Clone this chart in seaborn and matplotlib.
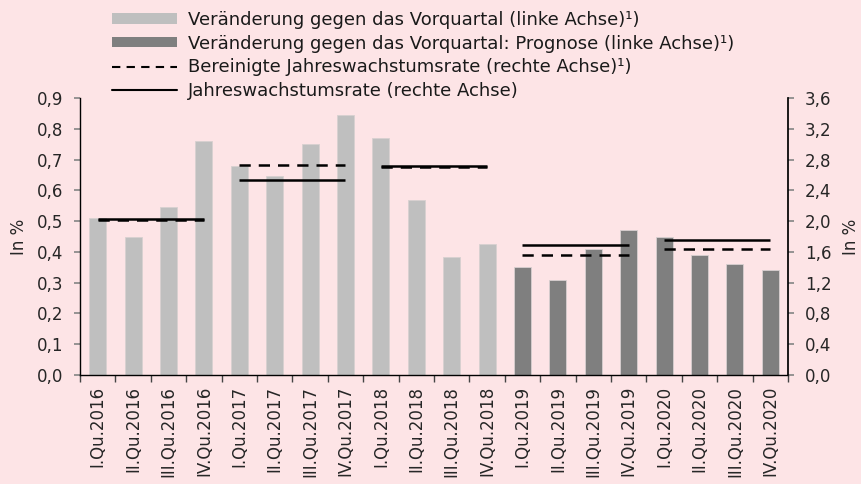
import numpy as np
import pandas as pd
import matplotlib
matplotlib.use("Agg")
import matplotlib.pyplot as plt
import seaborn as sns
from matplotlib.patches import Patch
from matplotlib.lines import Line2D
from matplotlib.ticker import FuncFormatter, FixedLocator

quarters = ["I.Qu.2016", "II.Qu.2016", "III.Qu.2016", "IV.Qu.2016",
            "I.Qu.2017", "II.Qu.2017", "III.Qu.2017", "IV.Qu.2017",
            "I.Qu.2018", "II.Qu.2018", "III.Qu.2018", "IV.Qu.2018",
            "I.Qu.2019", "II.Qu.2019", "III.Qu.2019", "IV.Qu.2019",
            "I.Qu.2020", "II.Qu.2020", "III.Qu.2020", "IV.Qu.2020"]
qoq = [0.51, 0.45, 0.545, 0.76, 0.68, 0.645, 0.75, 0.845, 0.77, 0.57, 0.385, 0.425,
       0.35, 0.31, 0.41, 0.47, 0.45, 0.39, 0.36, 0.34]
forecast = [False] * 12 + [True] * 8
years = [2016, 2017, 2018, 2019, 2020]
annual = [2.03, 2.54, 2.72, 1.69, 1.76]
annual_adj = [2.01, 2.73, 2.70, 1.56, 1.64]

labels = ["Veränderung gegen das Vorquartal (linke Achse)¹)",
          "Veränderung gegen das Vorquartal: Prognose (linke Achse)¹)",
          "Bereinigte Jahreswachstumsrate (rechte Achse)¹)",
          "Jahreswachstumsrate (rechte Achse)"]

bg = "#FDE4E6"
light = "#BFBFBF"
dark = "#7F7F7F"

sns.set_theme(style="white")
plt.rcParams["font.family"] = ["DejaVu Sans"]
plt.rcParams["text.color"] = "#1a1a1a"

df = pd.DataFrame({"q": quarters, "v": qoq,
                   "kind": ["prog" if f else "hist" for f in forecast]})

fig = plt.figure(figsize=(8.61, 4.84), dpi=100, facecolor=bg)
ax = fig.add_axes([0.0929, 0.2252, 0.8223, 0.5723])
ax.set_facecolor(bg)
sns.barplot(data=df, x="q", y="v", hue="kind", dodge=False, width=0.48,
            palette={"hist": light, "prog": dark}, order=quarters,
            hue_order=["hist", "prog"], legend=False, ax=ax, saturation=1,
            edgecolor="#d8d0d0", linewidth=0.6)
ax.set_xlim(-0.5, len(quarters) - 0.5)
ax.set_ylim(0, 0.9)
ax.set_yticks(np.arange(0, 0.91, 0.1))
ax.yaxis.set_major_formatter(FuncFormatter(lambda v, p: f"{v:.1f}".replace(".", ",")))
ax.set_xlabel("")
ax.set_ylabel("In %", fontsize=12, labelpad=6)
ax.set_xticks(range(len(quarters)))
ax.set_xticklabels(quarters, rotation=90, fontsize=12)
ax.tick_params(axis="x", which="major", length=0, pad=8)
ax.xaxis.set_minor_locator(FixedLocator(np.arange(-0.5, len(quarters), 1.0)))
ax.tick_params(axis="x", which="minor", length=5, color="#444444", bottom=True, direction="out")
ax.tick_params(axis="y", length=4, color="#888888", left=True, direction="out", labelsize=12, pad=8)
for s in ["top", "right"]:
    ax.spines[s].set_visible(False)
for s in ["left", "bottom"]:
    ax.spines[s].set_color("#000000")
    ax.spines[s].set_linewidth(1.0)

ax2 = ax.twinx()
ax2.set_ylim(0, 3.6)
ax2.set_yticks(np.arange(0, 3.61, 0.4))
ax2.yaxis.set_major_formatter(FuncFormatter(lambda v, p: f"{v:.1f}".replace(".", ",")))
ax2.tick_params(axis="y", length=4, color="#888888", right=True, direction="out", labelsize=12, pad=8)
ax2.set_ylabel("In %", fontsize=12, rotation=90, labelpad=8)
for s in ["top", "left", "bottom"]:
    ax2.spines[s].set_visible(False)
ax2.spines["right"].set_color("#000000")
ax2.grid(False)

for i, y in enumerate(years):
    idx = [k for k, q in enumerate(quarters) if q.endswith(str(y))]
    ax2.hlines(annual[i], idx[0], idx[-1], colors="black", linewidth=1.8, linestyles="solid")
    ax2.hlines(annual_adj[i], idx[0], idx[-1], colors="black", linewidth=1.8,
               linestyles=(0, (4.5, 3.2)))

handles = [Patch(facecolor=light, edgecolor="none"),
           Patch(facecolor=dark, edgecolor="none"),
           Line2D([0], [0], color="black", lw=1.5, ls=(0, (4, 3))),
           Line2D([0], [0], color="black", lw=1.5)]
fig.legend(handles, labels, loc="upper left", bbox_to_anchor=(0.118, 1.0),
           frameon=False, fontsize=13, handlelength=3.6, handleheight=0.5,
           labelspacing=0.32, handletextpad=0.6, borderaxespad=0.2)

fig.savefig("out.png", dpi=100, facecolor=bg)
